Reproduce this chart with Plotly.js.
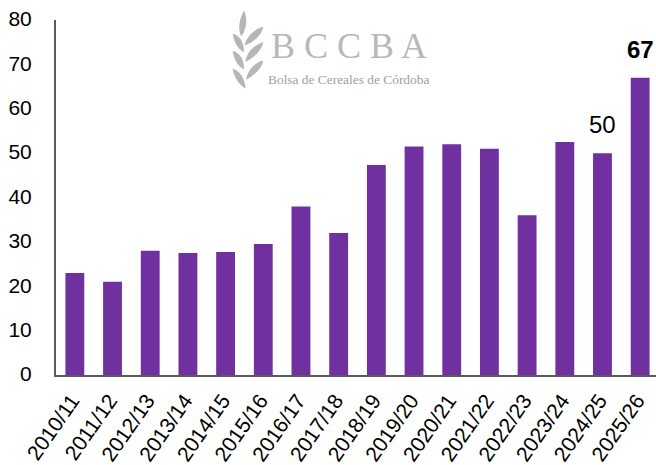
<!DOCTYPE html>
<html><head><meta charset="utf-8">
<script src="https://cdn.plot.ly/plotly-3.0.1.min.js"></script>
<style>html,body{margin:0;padding:0;background:#fff;overflow:hidden}</style>
</head><body><div id="c" style="width:656px;height:465px"></div>
<script>
const campaigns = ["2010/11","2011/12","2012/13","2013/14","2014/15","2015/16","2016/17","2017/18","2018/19","2019/20","2020/21","2021/22","2022/23","2023/24","2024/25","2025/26"];
const values = [23,21,28,27.5,27.7,29.5,38,32,47.3,51.5,52,51,36,52.5,50,67];
const yTicks = [0,10,20,30,40,50,60,70,80];
const wheat = "<svg xmlns='http://www.w3.org/2000/svg' viewBox='30 25 105 245' width='105' height='245'><g fill='#b6b6b6'>" +
 "<path d='M72 30 C84 55 80 85 64 108 C52 85 58 55 72 30Z'/>" +
 "<path d='M130 78 C125 105 100 125 74 135 C78 110 100 88 130 78Z'/>" +
 "<path d='M38 100 C60 105 72 125 72 155 C52 145 42 125 38 100Z'/>" +
 "<path d='M130 125 C125 152 100 172 76 185 C80 157 100 135 130 125Z'/>" +
 "<path d='M38 152 C60 157 72 177 72 207 C52 197 42 177 38 152Z'/>" +
 "<path d='M130 180 C125 207 100 227 78 238 C82 212 100 190 130 180Z'/>" +
 "<path d='M38 205 C60 210 74 235 77 265 C55 250 42 230 38 205Z'/>" +
 "</g></svg>";
const L = 56, T = 19.5, W = 600, H = 356;
function px(x){return (x-L)/W;}
function py(y){return 1-(y-T)/H;}
Plotly.newPlot('c',[{
  type:'bar', x:campaigns, y:values,
  marker:{color:'#7030a0', line:{width:0}},
  hoverinfo:'skip'
}],{
  width:656,height:465,
  margin:{l:L,r:0,t:T,b:465-T-H,pad:0},
  paper_bgcolor:'#fff',plot_bgcolor:'#fff',
  bargap:0.5,showlegend:false,
  font:{family:'"Liberation Sans",Arial,sans-serif',color:'#000'},
  xaxis:{type:'category',range:[-0.5,15.42],tickangle:-55,tickfont:{size:21,color:'#000'},
    ticklabelshift:-3,ticklabelstandoff:3,
    ticks:'',showgrid:false,zeroline:false,showline:true,linecolor:'#595959',linewidth:2,automargin:false},
  yaxis:{range:[0,80],tickvals:yTicks,tickfont:{size:21,color:'#000'},ticks:'',ticklabelstandoff:18,ticklabelshift:-1,
    showgrid:false,zeroline:false,showline:true,linecolor:'#595959',linewidth:2,automargin:false},
  annotations:[
    {xref:'x',yref:'y',x:campaigns[14],y:values[14],yshift:29,text:String(values[14]),showarrow:false,font:{size:24,color:'#000'}},
    {xref:'x',yref:'y',x:campaigns[15],y:values[15],yshift:28,text:'<b>'+values[15]+'</b>',showarrow:false,font:{size:24,color:'#000'}},
    {xref:'paper',yref:'paper',x:px(349),y:py(46),xanchor:'center',yanchor:'middle',text:'B C C B A',showarrow:false,
      font:{family:'"Liberation Serif",serif',size:36,color:'#b8b8b8'}},
    {xref:'paper',yref:'paper',x:px(348),y:py(79),xanchor:'center',yanchor:'middle',text:'Bolsa de Cereales de Córdoba',showarrow:false,
      font:{family:'"Liberation Serif",serif',size:13.4,color:'#a0a0a0'}}
  ],
  images:[{source:'data:image/svg+xml;utf8,'+encodeURIComponent(wheat),xref:'paper',yref:'paper',
    x:px(230),y:py(8.3),sizex:35/W,sizey:81.7/H,xanchor:'left',yanchor:'top',sizing:'stretch',layer:'above'}]
},{displayModeBar:false,staticPlot:true});
</script></body></html>
